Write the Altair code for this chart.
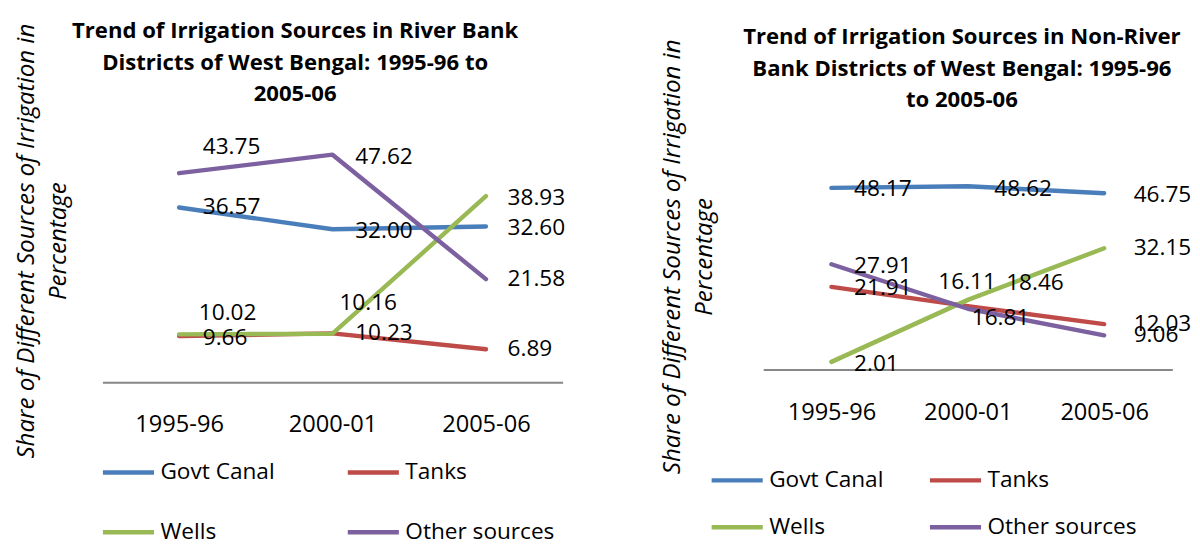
import altair as alt
import pandas as pd

# ---------------- data ----------------
years = ["1995-96", "2000-01", "2005-06"]
series = ["Govt Canal", "Tanks", "Wells", "Other sources"]
colors = ["#4A7EBB", "#BE4B48", "#98B954", "#7D60A0"]

river_govt_canal = [36.57, 32.00, 32.60]
river_tanks = [9.66, 10.23, 6.89]
river_wells = [10.02, 10.16, 38.93]
river_other = [43.75, 47.62, 21.58]

nonriver_govt_canal = [48.17, 48.62, 46.75]
nonriver_tanks = [21.91, 16.81, 12.03]
nonriver_wells = [2.01, 18.46, 32.15]
nonriver_other = [27.91, 16.11, 9.06]

river_title = ["Trend of Irrigation Sources in River Bank",
               "Districts of West Bengal: 1995-96 to", "2005-06"]
nonriver_title = ["Trend of Irrigation Sources in Non-River",
                  "Bank Districts of West Bengal: 1995-96", "to 2005-06"]
y_title = ["Share of Different Sources of Irrigation in", "Percentage"]

# ---------------- label placement (pixel nudges, style only) ----------------
river_label_nudge = {
    "Govt Canal": [(24, 0), (23, 2), (22, 2)],
    "Tanks": [(24, 2), (23, 0), (22, 0)],
    "Wells": [(20, -22), (7, -31), (22, 2)],
    "Other sources": [(24, -26), (23, 2), (22, 0)],
}
nonriver_label_nudge = {
    "Govt Canal": [(23, 1), (27, 3), (30, 2)],
    "Tanks": [(23, 1), (4, 12), (30, 0)],
    "Wells": [(23, 2), (39, -17), (30, 0)],
    "Other sources": [(23, 2), (-30, -27), (30, 0)],
}

FONT = "Open Sans"


def make_frame(values, nudges):
    rows = []
    for s in series:
        for i, yr in enumerate(years):
            dx, dy = nudges[s][i]
            rows.append({"year": yr, "series": s, "value": values[s][i],
                         "grp": f"{dx}_{dy}"})
    return pd.DataFrame(rows)


def panel(values, nudges, title_lines, width, height, ymax, title_offset,
          title_dx, ytitle_pad, ytitle_y, xlabel_pad, leg_x, leg_y,
          leg_colpad, leg_rowpad):
    df = make_frame(values, nudges)
    base = alt.Chart(df)
    x_enc = alt.X("year:N", sort=years,
                  scale=alt.Scale(type="point", padding=0.5),
                  axis=alt.Axis(title=None, labelAngle=0, ticks=False,
                                labelFontSize=24, labelFont=FONT,
                                labelColor="black", labelPadding=xlabel_pad,
                                domainColor="#878787", domainWidth=2,
                                grid=False))
    y_axis_kw = dict(domain=False, ticks=False, labels=False,
                     grid=False, title=y_title,
                     titleFont=FONT, titleFontSize=24.5,
                     titleFontStyle="italic",
                     titleFontWeight="normal",
                     titleColor="black", titleLineHeight=32,
                     titlePadding=ytitle_pad)
    if ytitle_y is not None:
        y_axis_kw["titleY"] = ytitle_y
    y_enc = alt.Y("value:Q", scale=alt.Scale(domain=[0, ymax]),
                  axis=alt.Axis(**y_axis_kw))
    line = base.mark_line(strokeWidth=4.5, strokeCap="round",
                          strokeJoin="round").encode(
        x=x_enc, y=y_enc,
        color=alt.Color("series:N", sort=series,
                        scale=alt.Scale(domain=series, range=colors),
                        legend=alt.Legend(orient="none", legendX=leg_x,
                                          legendY=leg_y, columns=2,
                                          direction="horizontal",
                                          title=None, symbolType="stroke",
                                          symbolSize=2700,
                                          symbolStrokeWidth=4.5,
                                          labelFontSize=23, labelFont=FONT,
                                          labelColor="black", labelOffset=4,
                                          columnPadding=leg_colpad,
                                          rowPadding=leg_rowpad)),
    )
    layers = [line]
    for g in sorted(df["grp"].unique()):
        dx, dy = (int(v) for v in g.split("_"))
        layers.append(
            base.transform_filter(alt.datum.grp == g)
            .mark_text(align="left", baseline="middle", dx=dx, dy=dy,
                       fontSize=23, font=FONT, color="black")
            .encode(x=alt.X("year:N", sort=years),
                    y=alt.Y("value:Q"),
                    text=alt.Text("value:Q", format=".2f"))
        )
    return alt.layer(*layers).properties(
        width=width, height=height,
        title=alt.TitleParams(text=title_lines, fontSize=22.5, font=FONT,
                              fontWeight="bold", color="black",
                              anchor="middle", frame="group",
                              lineHeight=32, offset=title_offset,
                              dx=title_dx),
    )


river_values = {"Govt Canal": river_govt_canal, "Tanks": river_tanks,
                "Wells": river_wells, "Other sources": river_other}
nonriver_values = {"Govt Canal": nonriver_govt_canal, "Tanks": nonriver_tanks,
                   "Wells": nonriver_wells, "Other sources": nonriver_other}

left = panel(river_values, river_label_nudge, river_title, 468, 243, 50,
             title_offset=-84, title_dx=-38, ytitle_pad=33, ytitle_y=99,
             xlabel_pad=31, leg_x=-2, leg_y=306, leg_colpad=64, leg_rowpad=20)
right = panel(nonriver_values, nonriver_label_nudge, nonriver_title, 416, 230,
              60, title_offset=-74, title_dx=-6, ytitle_pad=48, ytitle_y=None,
              xlabel_pad=32, leg_x=-55, leg_y=314, leg_colpad=37, leg_rowpad=7)

chart = alt.hconcat(left, right, spacing=95).resolve_legend(
    color="independent"
).configure_view(stroke=None).properties(
    padding={"left": 5, "top": 8, "right": 0, "bottom": 0}
)

chart.save("out.html", embed_options={"renderer": "svg", "actions": False})
